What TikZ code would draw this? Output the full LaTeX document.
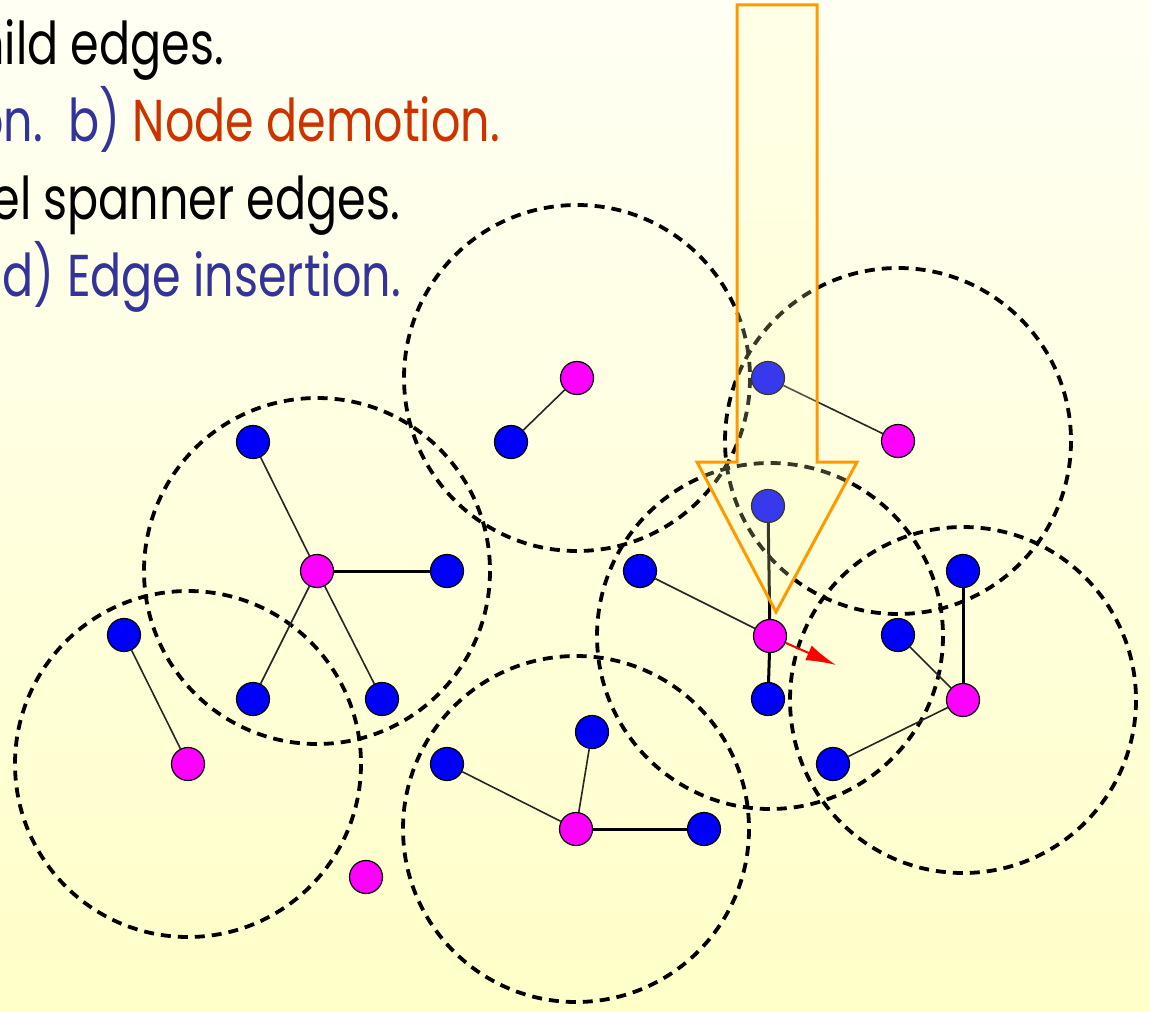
\documentclass[tikz,border=0pt]{standalone}
\usepackage{fontspec}
\setmainfont{Poppins}
\usetikzlibrary{arrows.meta}
\definecolor{bgtop}{RGB}{255,255,244}
\definecolor{bgbot}{RGB}{255,255,200}
\definecolor{txtblue}{RGB}{51,51,153}
\definecolor{txtred}{RGB}{204,51,0}
\definecolor{nodeblue}{RGB}{0,0,250}
\definecolor{nodemag}{RGB}{255,0,255}
\definecolor{arrorange}{RGB}{255,153,0}
\definecolor{arrfill}{RGB}{255,255,190}
\newcommand{\narrow}[1]{\scalebox{0.78}[1]{#1}}
\tikzset{
  bluenode/.style={circle, draw=black, line width=1.2pt, fill=nodeblue, minimum size=33pt, inner sep=0pt},
  magnode/.style={circle, draw=black, line width=1.2pt, fill=nodemag, minimum size=33pt, inner sep=0pt},
  coverring/.style={draw=black, line width=3.8pt, dash pattern=on 10pt off 7pt},
  thinedge/.style={draw=black!85, line width=1.6pt},
  thickedge/.style={draw=black, line width=3pt},
  caption/.style={inner sep=0pt, font=\fontsize{59}{64}\selectfont},
}
\begin{document}
\begin{tikzpicture}[x=1pt, y=-1pt]
  % background
  \shade[top color=bgtop, bottom color=bgbot] (0,0) rectangle (1150,1011);
  \useasboundingbox (0,0) rectangle (1150,1011);
  \clip (0,0) rectangle (1150,1011);

  % caption lines
  \node[caption, anchor=base east] (l1) at (224,65) {\narrow{hild edges.}};
  \node[caption, anchor=base east, text=txtblue] (l2a) at (43,142) {\narrow{on.}};
  \node[caption, anchor=base east] (l2b) at (500,142) {\narrow{\textcolor{txtblue}{b)} \textcolor{txtred}{Node demotion.}}};
  \node[caption, anchor=base east] (l3) at (400,219) {\narrow{vel spanner edges.}};
  \node[caption, anchor=base east, text=txtblue] (l4) at (401,296) {\narrow{d) Edge insertion.}};

  % dominator nodes (magenta)
  \coordinate (pA) at (577,378);
  \coordinate (pB) at (898,441);
  \coordinate (pC) at (317,571);
  \coordinate (pD) at (770,636);
  \coordinate (pE) at (963,700);
  \coordinate (pF) at (188,764);
  \coordinate (pG) at (576,829);
  \coordinate (pH) at (366,877);

  % coverage ranges
  \foreach \c in {pA,pB,pC,pD,pE,pF,pG}
    \draw[coverring] (\c) circle[radius=173];

  % member nodes (blue)
  \node[bluenode] (b1) at (253,442) {};
  \node[bluenode] (b2) at (511,442) {};
  \node[bluenode] (b3) at (768,378) {};
  \node[bluenode] (b4) at (768,506) {};
  \node[bluenode] (b5) at (447,571) {};
  \node[bluenode] (b6) at (640,571) {};
  \node[bluenode] (b7) at (963,571) {};
  \node[bluenode] (b8) at (124,635) {};
  \node[bluenode] (b9) at (898,635) {};
  \node[bluenode] (b10) at (253,699) {};
  \node[bluenode] (b11) at (382,699) {};
  \node[bluenode] (b12) at (768,699) {};
  \node[bluenode] (b13) at (592,732) {};
  \node[bluenode] (b14) at (447,764) {};
  \node[bluenode] (b15) at (833,764) {};
  \node[bluenode] (b16) at (704,829) {};

  \node[magnode] (mA) at (pA) {};
  \node[magnode] (mB) at (pB) {};
  \node[magnode] (mC) at (pC) {};
  \node[magnode] (mD) at (pD) {};
  \node[magnode] (mE) at (pE) {};
  \node[magnode] (mF) at (pF) {};
  \node[magnode] (mG) at (pG) {};
  \node[magnode] (mH) at (pH) {};

  % spanner edges
  \draw[thinedge] (mA) -- (b2);
  \draw[thinedge] (b3) -- (mB);
  \draw[thinedge] (b1) -- (mC);
  \draw[thickedge] (mC) -- (b5);
  \draw[thinedge] (mC) -- (b10);
  \draw[thinedge] (mC) -- (b11);
  \draw[thinedge] (b8) -- (mF);
  \draw[thickedge] (b4) -- (mD);
  \draw[thinedge] (b6) -- (mD);
  \draw[thickedge] (mD) -- (b12);
  \draw[thickedge] (b7) -- (mE);
  \draw[thinedge] (b9) -- (mE);
  \draw[thinedge] (mE) -- (b15);
  \draw[thinedge] (b13) -- (mG);
  \draw[thinedge] (b14) -- (mG);
  \draw[thickedge] (mG) -- (b16);

  % demotion direction
  \coordinate (dm) at (836,665);
  \draw[red, line width=2pt, -{Latex[length=30pt, width=16pt]}] (mD) -- (dm);

  % highlight arrow
  \draw[arrorange, line width=3pt, fill=arrfill, fill opacity=0.22, line join=miter]
    (737,5) -- (817,5) -- (817,462) -- (857,462) -- (776,612) -- (697,462) -- (737,462) -- cycle;
\end{tikzpicture}
\end{document}
